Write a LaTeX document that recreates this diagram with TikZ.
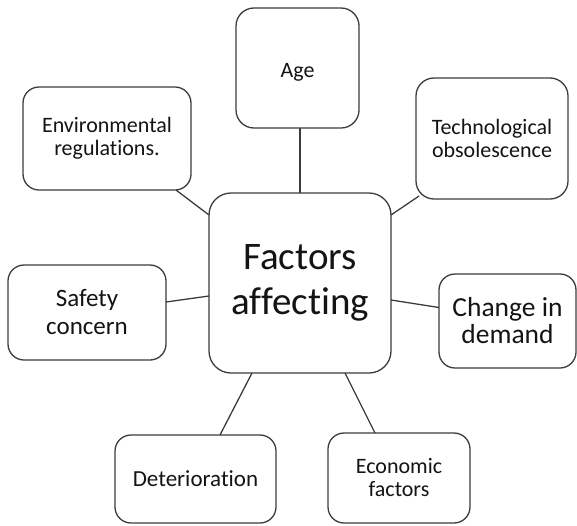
\documentclass[tikz,border=0pt]{standalone}
\usepackage{fontspec}
\setmainfont[Ligatures=NoCommon]{Carlito}
\definecolor{edge}{HTML}{3C3C3C}
\definecolor{ink}{HTML}{141414}
\begin{document}
\begin{tikzpicture}[x=1pt,y=-1pt,
  factor/.style={draw=edge, line width=1.3pt, rounded corners=16pt,
    fill=white, text=ink, align=center, inner sep=0pt, outer sep=0pt},
  link/.style={draw=edge, line width=1.3pt},
  small/.style={font=\fontsize{22}{23}\selectfont},
  mid/.style={font=\fontsize{25}{28}\selectfont}]
\useasboundingbox (0,0) rectangle (577,525);

% central topic
\node[factor, rounded corners=22pt, minimum width=182pt, minimum height=180pt,
  font=\fontsize{39}{45}\selectfont] (hub) at (300,283) {Factors\\affecting};

% surrounding factors
\node[factor, rounded corners=18pt, minimum width=123pt, minimum height=120pt] (age) at (297.5,68) {};
\node[small, text=ink, inner sep=0pt] (agetext) at (297.5,72) {Age};
\node[factor, small, minimum width=168pt, minimum height=103pt] (env) at (107,138.5) {Environmental\\regulations.};
\node[factor, small, rounded corners=18pt, minimum width=152pt, minimum height=121pt] (tech) at (492,138.5) {Technological\\obsolescence};
\node[factor, mid, minimum width=158pt, minimum height=95pt] (safety) at (87,312.5) {Safety\\concern};
\node[factor, font=\fontsize{27.5}{27}\selectfont, minimum width=137pt, minimum height=94pt] (change) at (507.5,321) {Change in\\demand};
\node[factor, font=\fontsize{23}{25}\selectfont, minimum width=161pt, minimum height=88pt] (det) at (195.5,479) {Deterioration};
\node[factor, small, minimum width=142pt, minimum height=90pt] (econ) at (399,478) {Economic\\factors};

% connectors
\draw[link] (hub.north |- age.south) -- (hub.north);
\draw[link] ([xshift=69pt]env.south) -- ([yshift=68pt]hub.west);
\draw[link] ([xshift=3pt,yshift=3pt]tech.south west) -- ([yshift=68pt]hub.east);
\draw[link] ([yshift=10.5pt]safety.east) -- ([yshift=-13pt]hub.west);
\draw[link] ([yshift=-17pt]hub.east) -- ([yshift=13.5pt]change.west);
\draw[link] ([xshift=-48pt]hub.south) -- ([xshift=24.5pt]det.north);
\draw[link] ([xshift=45pt]hub.south) -- ([xshift=-24pt]econ.north);
\end{tikzpicture}
\end{document}
